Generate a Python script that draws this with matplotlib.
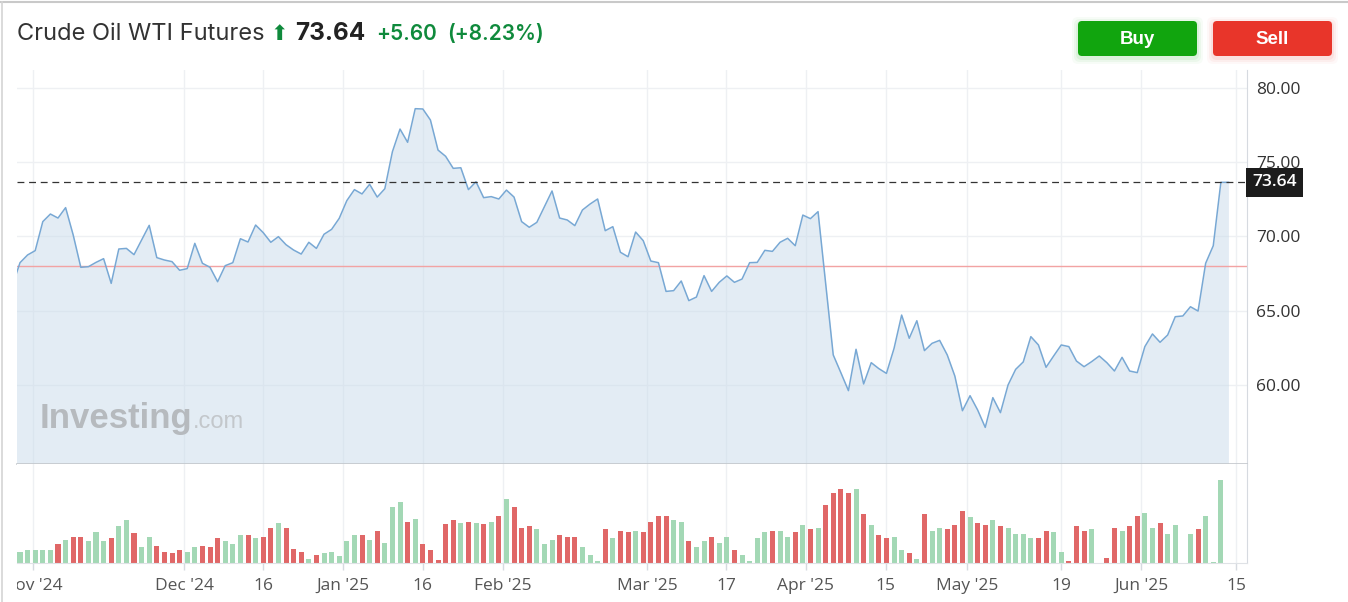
import numpy as np
import matplotlib.pyplot as plt
from matplotlib.patches import FancyBboxPatch
from matplotlib.lines import Line2D
from matplotlib.transforms import Bbox, TransformedBbox, IdentityTransform, blended_transform_factory

# ---- data (daily closes and volume, index = trading session) ----
price = [
    66.70, 68.24, 68.76, 69.05, 71.00, 71.51, 71.24, 71.94, 70.10, 67.93,
    67.97, 68.26, 68.51, 66.85, 69.16, 69.20, 68.78, 69.76, 70.75, 68.58,
    68.42, 68.31, 67.73, 67.84, 69.54, 68.20, 67.93, 66.96, 68.04, 68.24,
    69.85, 69.63, 70.77, 70.26, 69.61, 69.99, 69.45, 69.09, 68.82, 69.61,
    69.20, 70.15, 70.48, 71.22, 72.41, 73.15, 72.86, 73.51, 72.65, 73.21,
    75.70, 77.22, 76.33, 78.59, 78.57, 77.83, 75.81, 75.39, 74.58, 74.62,
    73.15, 73.68, 72.61, 72.68, 72.52, 73.12, 72.65, 71.00, 70.62, 70.95,
    72.00, 73.06, 71.24, 71.11, 70.73, 71.78, 72.18, 72.52, 70.39, 70.66,
    68.94, 68.64, 70.30, 69.72, 68.35, 68.24, 66.31, 66.36, 67.01, 65.69,
    65.93, 67.37, 66.31, 66.92, 67.35, 66.92, 67.14, 68.24, 68.26, 69.07,
    69.00, 69.61, 69.88, 69.38, 71.44, 71.20, 71.67, 66.85, 62.04, 60.85,
    59.64, 62.42, 60.09, 61.52, 61.12, 60.80, 62.48, 64.72, 63.16, 64.34,
    62.33, 62.82, 63.02, 62.04, 60.62, 58.29, 59.30, 58.34, 57.17, 59.17,
    58.16, 60.02, 61.07, 61.57, 63.27, 62.71, 61.21, 61.97, 62.71, 62.60,
    61.63, 61.25, 61.59, 61.97, 61.52, 60.96, 61.88, 60.96, 60.85, 62.60,
    63.45, 62.89, 63.38, 64.61, 64.66, 65.28, 64.99, 68.20, 69.38, 73.64,
    73.64,
]
volume = [
    30, 34, 39, 39, 39, 39, 57, 70, 79, 79,
    66, 93, 66, 75, 111, 129, 89, 47, 79, 52,
    34, 30, 39, 34, 48, 52, 48, 75, 66, 57,
    84, 84, 75, 79, 106, 120, 106, 43, 34, 12,
    25, 30, 34, 21, 66, 84, 84, 70, 97, 61,
    169, 183, 124, 133, 57, 39, 8, 116, 129, 120,
    124, 120, 116, 124, 142, 192, 169, 106, 111, 102,
    57, 70, 84, 79, 79, 48, 25, 7, 102, 75,
    97, 93, 97, 93, 124, 142, 142, 129, 124, 66,
    48, 66, 79, 61, 79, 39, 25, 7, 75, 93,
    97, 97, 79, 93, 115, 102, 106, 174, 209, 223,
    209, 223, 147, 115, 83, 74, 78, 38, 29, 11,
    147, 97, 106, 102, 115, 156, 138, 120, 115, 129,
    111, 106, 88, 88, 74, 74, 97, 93, 34, 7,
    111, 97, 102, 0, 16, 106, 97, 111, 142, 151,
    106, 120, 88, 115, 0, 88, 102, 142, 3, 249,
    0,
]
tick_pos = [2.67, 22.6, 33.0, 43.5, 54.0, 64.5, 83.5, 93.9, 104.4, 114.9, 125.6, 138.0, 148.5, 161.0]
tick_labels = ["Nov '24", "Dec '24", "16", "Jan '25", "16", "Feb '25", "Mar '25", "17",
               "Apr '25", "15", "May '25", "19", "Jun '25", "15"]
y_ticks = [60, 65, 70, 75, 80]

name = 'Crude Oil WTI Futures'
last_price = 73.64
prev_close = 68.04
change = 5.60
change_pct = 8.23

# ---- figure ----
W, H = 1348, 602
fig = plt.figure(figsize=(W / 100, H / 100), dpi=100)
fig.patch.set_facecolor('white')


def fx(px):
    return px / W


def fy(py):
    return 1 - py / H


x_left, x_right = 17, 1246.7
p_top, p_bot, v_bot = 70, 464.3, 563
ax = fig.add_axes([fx(x_left), fy(p_bot), (x_right - x_left) / W, (p_bot - p_top) / H])
axv = fig.add_axes([fx(x_left), fy(v_bot), (x_right - x_left) / W, (v_bot - p_bot) / H], sharex=ax)

x = np.arange(len(price))
price_arr = np.array(price)
y_lo, y_hi = 54.69, 81.19

# price panel
ax.fill_between(x, price_arr, y_lo, color='#c9dbeb', alpha=0.5, lw=0, zorder=2)
ax.plot(x, price_arr, color='#78a8d4', lw=1.1, zorder=3)
ax.axhline(prev_close, color='#f2a3a3', lw=1.0, zorder=2.5)
ax.axhline(last_price, color='#333333', lw=0.9, dashes=(5.5, 3.8), zorder=4)
ax.set_xlim(0.605, 162.4)
ax.set_ylim(y_lo, y_hi)
ax.set_yticks(y_ticks)
ax.set_yticklabels([f'{v:.2f}' for v in y_ticks])
ax.yaxis.tick_right()
ax.tick_params(axis='y', length=0, pad=7, labelsize=12.5, labelcolor='#333333')
ax.tick_params(axis='x', length=0, labelbottom=False)
for lbl in ax.get_yticklabels():
    lbl.set_family('Open Sans')
ax.grid(True, color='#eef0f3', lw=1)
ax.set_axisbelow(True)
for s in ['left', 'top']:
    ax.spines[s].set_visible(False)
ax.spines['right'].set_color('#d6dae0')
ax.spines['bottom'].set_color('#c3c7cc')
ax.spines['bottom'].set_linewidth(1.2)

# last price tag
trans = blended_transform_factory(ax.transAxes, ax.transData)
ax.text(1.0 + 5.5 / (x_right - x_left), last_price, f'{last_price:.2f}', transform=trans,
        ha='left', va='center', fontsize=12.5, color='white', family='Open Sans', fontweight='semibold',
        bbox=dict(boxstyle='square,pad=0.36', fc='#1c1c1c', ec='none'), clip_on=False, zorder=6)

# volume panel
vol_colors = ['#a3d8b5' if i == 0 or price[i] >= price[i - 1] else '#e06767' for i in range(len(price))]
axv.bar(x, volume, width=0.66, color=vol_colors, zorder=2)
axv.set_ylim(0, 296)
axv.set_yticks([])
axv.set_xticks(tick_pos)
axv.set_xticklabels(tick_labels)
axv.tick_params(axis='x', length=5, width=1, color='#d6dae0', pad=6, labelsize=12.5, labelcolor='#555555')
axv.grid(True, axis='x', color='#eef0f3', lw=1)
axv.set_axisbelow(True)
for s in ['left', 'top']:
    axv.spines[s].set_visible(False)
axv.spines['right'].set_color('#d6dae0')
axv.spines['bottom'].set_color('#dfe2e6')

clip = TransformedBbox(Bbox.from_extents(x_left, 0, W, H), IdentityTransform())
for lbl in axv.get_xticklabels():
    lbl.set_family('Open Sans')
    lbl.set_clip_box(clip)
    lbl.set_clip_on(True)

# watermark
renderer = fig.canvas.get_renderer()
wm = fig.text(fx(40), fy(428), 'Investing', fontsize=25, fontweight='bold', family='Liberation Sans',
              color='#b6babe', va='baseline', ha='left')
wx = wm.get_window_extent(renderer).x1
fig.text(fx(wx), fy(428), '.com', fontsize=17, family='Liberation Sans', color='#c3c7cb',
         va='baseline', ha='left')

# header
base = 40


def put(xpx, s, **kw):
    t = fig.text(fx(xpx), fy(base), s, va='baseline', ha='left', **kw)
    return t.get_window_extent(renderer).x1


hx = put(17, name, fontsize=17, family='Inter', color='#333333')
hx = put(hx + 6, '⬆', fontsize=15, family='DejaVu Sans', color='#0f8a3c')
hx = put(hx + 7, f'{last_price:.2f}', fontsize=17.5, family='Inter', fontweight='bold', color='#222222')
hx = put(hx + 11, f'+{change:.2f}', fontsize=15, family='Inter', fontweight='semibold', color='#0f8a3c')
put(hx + 10, f'(+{change_pct:.2f}%)', fontsize=15, family='Inter', fontweight='semibold', color='#0f8a3c')

# buttons
for bx, label, col in [(1078, 'Buy', '#11a50e'), (1213, 'Sell', '#e8352a')]:
    for k, a in [(6, 0.03), (4, 0.05), (2, 0.07)]:
        sh = FancyBboxPatch((bx - k, H - 56 - k - 2), 119 + 2 * k, 35 + 2 * k,
                            boxstyle='round,pad=0,rounding_size=6', fc=col, ec='none', alpha=a,
                            transform=IdentityTransform())
        fig.patches.append(sh)
    btn = FancyBboxPatch((bx, H - 56), 119, 35, boxstyle='round,pad=0,rounding_size=4',
                         fc=col, ec='none', transform=IdentityTransform())
    fig.patches.append(btn)
    fig.text(fx(bx + 59.5), fy(39.5), label, ha='center', va='center', fontsize=13.5,
             fontweight='bold', family='Liberation Sans', color='white')

# outer border
fig.lines.append(Line2D([0, 1], [fy(1.5), fy(1.5)], transform=fig.transFigure, color='#c9c9c9', lw=1.5))
fig.lines.append(Line2D([fx(1.5), fx(1.5)], [0, fy(1.5)], transform=fig.transFigure, color='#d4d4d4', lw=1.2))

fig.savefig('out.png', dpi=100)
